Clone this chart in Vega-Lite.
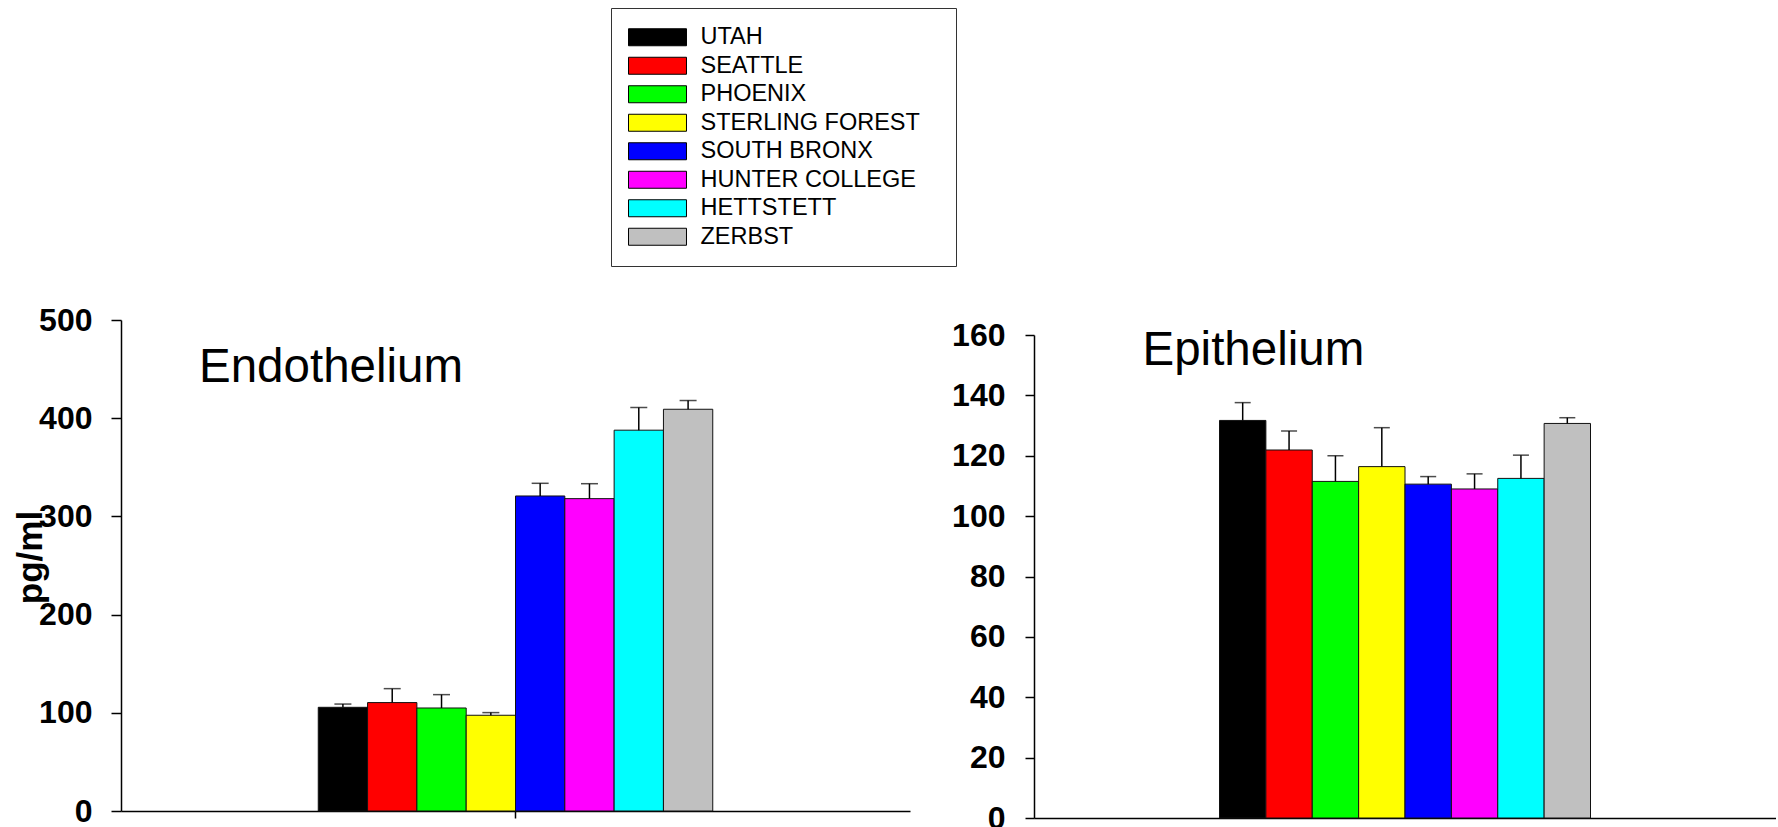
{
  "$schema": "https://vega.github.io/schema/vega-lite/v6.json",
  "background": "white",
  "padding": {"left": 13, "top": 7, "right": 0, "bottom": 0},
  "datasets": {
    "endo": [
      {"panel": "Endothelium", "site": "UTAH", "mean": 105.6, "upper": 108.9},
      {"panel": "Endothelium", "site": "SEATTLE", "mean": 110.4, "upper": 124.6},
      {"panel": "Endothelium", "site": "PHOENIX", "mean": 104.9, "upper": 118.5},
      {"panel": "Endothelium", "site": "STERLING FOREST", "mean": 97.5, "upper": 100.2},
      {"panel": "Endothelium", "site": "SOUTH BRONX", "mean": 320.8, "upper": 333.7},
      {"panel": "Endothelium", "site": "HUNTER COLLEGE", "mean": 318.1, "upper": 333.3},
      {"panel": "Endothelium", "site": "HETTSTETT", "mean": 387.8, "upper": 410.9},
      {"panel": "Endothelium", "site": "ZERBST", "mean": 409.1, "upper": 418.0}
    ],
    "epi": [
      {"panel": "Epithelium", "site": "UTAH", "mean": 131.7, "upper": 137.6},
      {"panel": "Epithelium", "site": "SEATTLE", "mean": 121.9, "upper": 128.2},
      {"panel": "Epithelium", "site": "PHOENIX", "mean": 111.5, "upper": 120.0},
      {"panel": "Epithelium", "site": "STERLING FOREST", "mean": 116.4, "upper": 129.3},
      {"panel": "Epithelium", "site": "SOUTH BRONX", "mean": 110.6, "upper": 113.1},
      {"panel": "Epithelium", "site": "HUNTER COLLEGE", "mean": 109.0, "upper": 114.0},
      {"panel": "Epithelium", "site": "HETTSTETT", "mean": 112.5, "upper": 120.2},
      {"panel": "Epithelium", "site": "ZERBST", "mean": 130.7, "upper": 132.6}
    ]
  },
  "spacing": 41,
  "resolve": {"scale": {"x": "independent", "xOffset": "independent", "y": "independent", "color": "shared"}},
  "hconcat": [
    {
      "width": 789,
      "height": 491,
      "data": {"name": "endo"},
      "title": {"text": "Endothelium", "frame": "group", "anchor": "start", "orient": "top", "offset": 0, "dx": 78, "dy": 125.5, "baseline": "alphabetic", "fontSize": 47.5, "fontWeight": "normal", "font": "Liberation Sans", "color": "#000"},
      "encoding": {
        "x": {"field": "panel", "type": "nominal", "scale": {"paddingInner": 0, "paddingOuter": 0.5}, "axis": {"title": null, "labels": false, "ticks": true, "tickSize": 7}},
        "xOffset": {"field": "site", "type": "nominal", "sort": ["UTAH", "SEATTLE", "PHOENIX", "STERLING FOREST", "SOUTH BRONX", "HUNTER COLLEGE", "HETTSTETT", "ZERBST"], "scale": {"paddingInner": 0, "paddingOuter": 0}}
      },
      "layer": [
        {
          "mark": {"type": "bar", "stroke": "#111", "strokeWidth": 1},
          "encoding": {
            "y": {"field": "mean", "type": "quantitative", "title": "pg/ml", "scale": {"domain": [0, 500], "nice": false}, "axis": {"values": [0, 100, 200, 300, 400, 500], "tickSize": 10, "labelPadding": 19, "titleX": -80, "titleY": 237, "titleAngle": 270, "titleAlign": "center", "titleBaseline": "alphabetic", "titleFontSize": 35, "titleFontWeight": "bold"}},
            "color": {"field": "site", "type": "nominal", "scale": {"domain": ["UTAH", "SEATTLE", "PHOENIX", "STERLING FOREST", "SOUTH BRONX", "HUNTER COLLEGE", "HETTSTETT", "ZERBST"], "range": ["#000000", "#FF0000", "#00FF00", "#FFFF00", "#0000FF", "#FF00FF", "#00FFFF", "#C0C0C0"]}, "legend": {"title": " "}}
          }
        },
        {
          "mark": {"type": "rule", "color": "#000", "strokeWidth": 1.5},
          "encoding": {"y": {"field": "mean", "type": "quantitative", "title": "pg/ml"}, "y2": {"field": "upper"}}
        },
        {
          "mark": {"type": "tick", "color": "#000", "size": 17, "thickness": 1.5, "orient": "horizontal"},
          "encoding": {"y": {"field": "upper", "type": "quantitative", "title": "pg/ml"}}
        }
      ]
    },
    {
      "width": 742,
      "height": 498,
      "data": {"name": "epi"},
      "title": {"text": "Epithelium", "frame": "group", "anchor": "start", "orient": "top", "offset": 0, "dx": 108.5, "dy": 93, "baseline": "alphabetic", "fontSize": 47.5, "fontWeight": "normal", "font": "Liberation Sans", "color": "#000"},
      "encoding": {
        "x": {"field": "panel", "type": "nominal", "scale": {"paddingInner": 0, "paddingOuter": 0.5}, "axis": {"title": null, "labels": false, "ticks": false}},
        "xOffset": {"field": "site", "type": "nominal", "sort": ["UTAH", "SEATTLE", "PHOENIX", "STERLING FOREST", "SOUTH BRONX", "HUNTER COLLEGE", "HETTSTETT", "ZERBST"], "scale": {"paddingInner": 0, "paddingOuter": 0}}
      },
      "layer": [
        {
          "mark": {"type": "bar", "stroke": "#111", "strokeWidth": 1},
          "encoding": {
            "y": {"field": "mean", "type": "quantitative", "title": null, "scale": {"domain": [0, 160], "range": [498, 15], "nice": false}, "axis": {"values": [0, 20, 40, 60, 80, 100, 120, 140, 160], "tickSize": 9, "labelPadding": 20}},
            "color": {"field": "site", "type": "nominal", "scale": {"domain": ["UTAH", "SEATTLE", "PHOENIX", "STERLING FOREST", "SOUTH BRONX", "HUNTER COLLEGE", "HETTSTETT", "ZERBST"], "range": ["#000000", "#FF0000", "#00FF00", "#FFFF00", "#0000FF", "#FF00FF", "#00FFFF", "#C0C0C0"]}, "legend": {"title": " "}}
          }
        },
        {
          "mark": {"type": "rule", "color": "#000", "strokeWidth": 1.5},
          "encoding": {"y": {"field": "mean", "type": "quantitative", "title": null}, "y2": {"field": "upper"}}
        },
        {
          "mark": {"type": "tick", "color": "#000", "size": 16, "thickness": 1.5, "orient": "horizontal"},
          "encoding": {"y": {"field": "upper", "type": "quantitative", "title": null}}
        }
      ]
    }
  ],
  "config": {
    "view": {"stroke": null},
    "font": "Liberation Sans",
    "axis": {
      "domainColor": "#000", "domainWidth": 1.5, "tickColor": "#000", "tickWidth": 1.5,
      "labelColor": "#000", "labelFont": "Liberation Sans", "labelFontSize": 32, "labelFontWeight": "bold",
      "grid": false, "labelFlush": false, "labelOverlap": false, "labelBound": false,
      "titleColor": "#000", "titleFont": "Liberation Sans"
    },
    "legend": {
      "orient": "none", "legendX": 490, "legendY": -312, "direction": "vertical",
      "padding": 17.5, "strokeColor": "#333",
      "symbolType": "M-3.41,-1H3.41V1H-3.41Z", "symbolSize": 289, "symbolOffset": 17.25,
      "symbolStrokeColor": "#000", "symbolStrokeWidth": 1, "symbolOpacity": 1,
      "labelFont": "Liberation Sans", "labelFontSize": 23.5, "labelColor": "#000", "labelOffset": 31.25, "labelLimit": 400,
      "rowPadding": 3.5,
      "titleOrient": "right", "titlePadding": 18.5, "titleFontSize": 23.5
    }
  }
}
